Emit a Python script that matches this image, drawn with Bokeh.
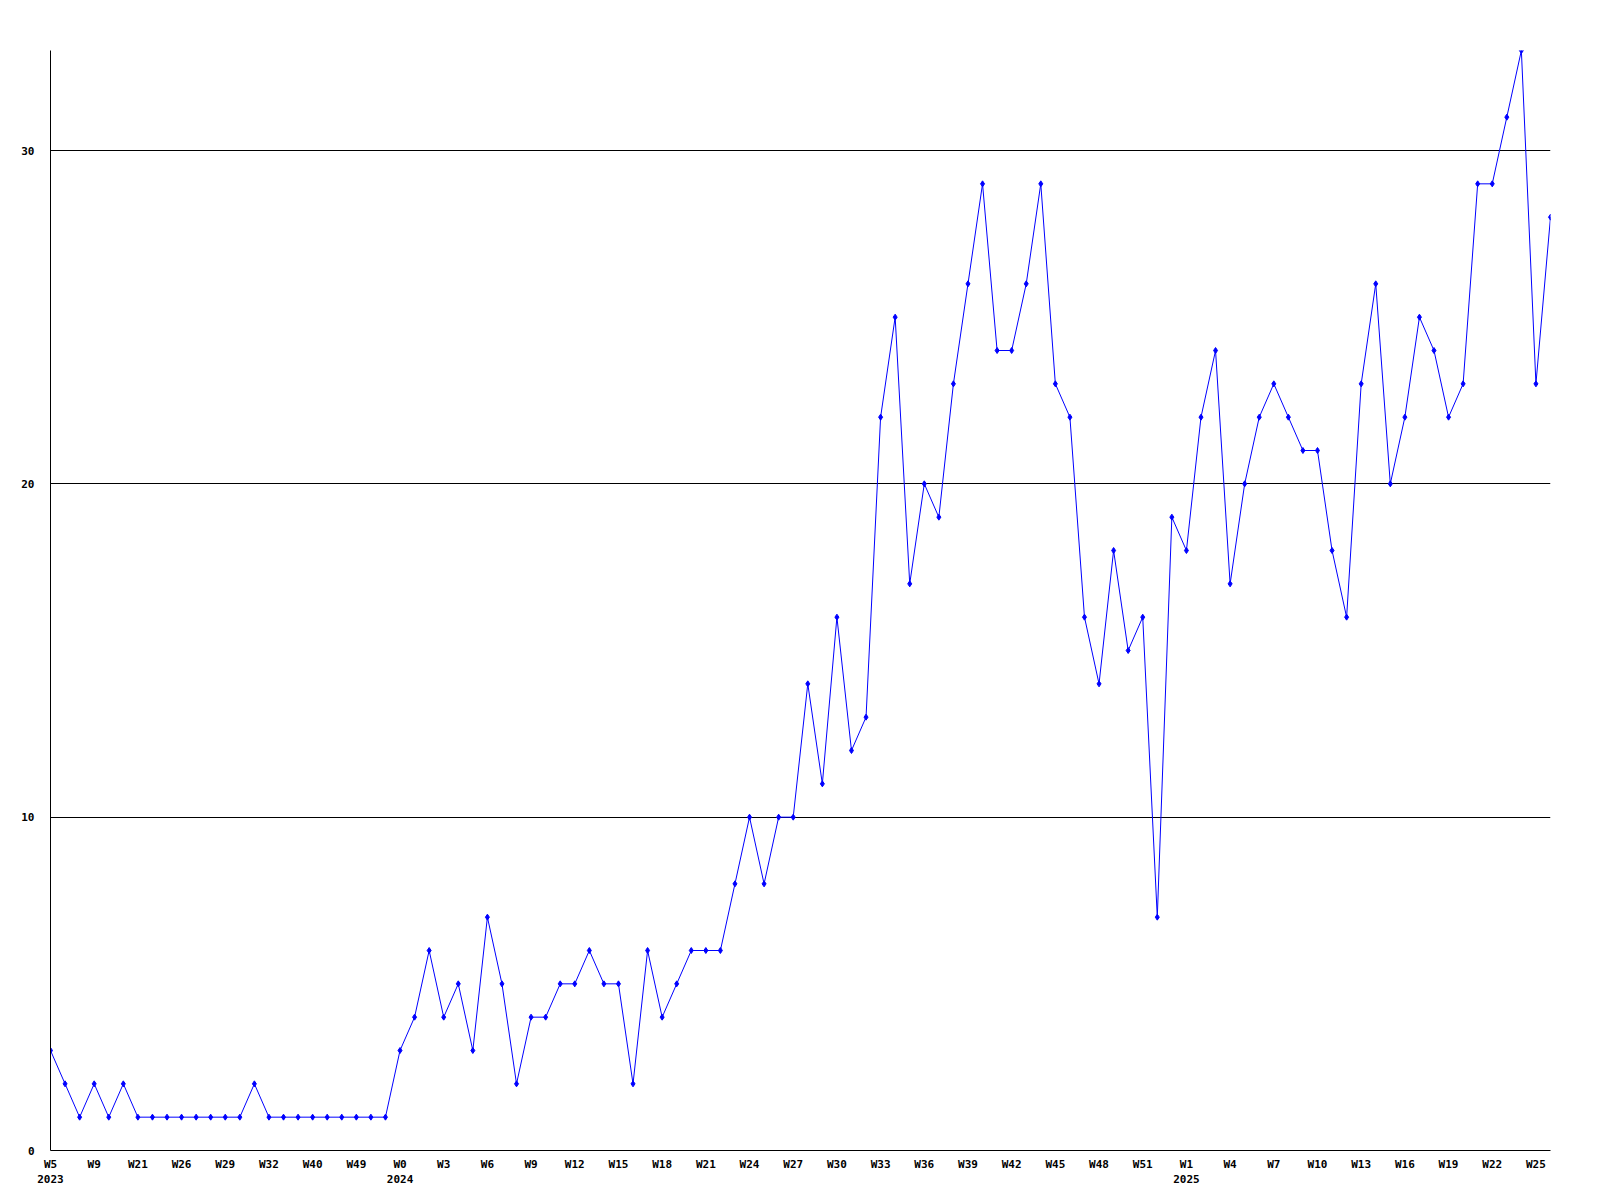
from bokeh.plotting import figure
from bokeh.models import Range1d, FixedTicker
from bokeh.embed import file_html
from bokeh.resources import INLINE

# ---- data ----
values = [3, 2, 1, 2, 1, 2, 1, 1, 1, 1, 1, 1, 1, 1, 2, 1, 1, 1, 1, 1, 1, 1, 1, 1,
          3, 4, 6, 4, 5, 3, 7, 5, 2, 4, 4, 5, 5, 6, 5, 5, 2, 6, 4, 5, 6, 6, 6, 8, 10, 8,
          10, 10, 14, 11, 16, 12, 13, 22, 25, 17, 20, 19, 23, 26, 29, 24, 24, 26, 29, 23,
          22, 16, 14, 18, 15, 16, 7, 19, 18, 22, 24, 17, 20, 22, 23,
          22, 21, 21, 18, 16, 23, 26, 20, 22, 25, 24, 22, 23, 29, 29, 31, 33, 23, 28]

week_labels = ["W5", "W9", "W21", "W26", "W29", "W32", "W40", "W49",
               "W0", "W3", "W6", "W9", "W12", "W15", "W18", "W21", "W24", "W27",
               "W30", "W33", "W36", "W39", "W42", "W45", "W48", "W51",
               "W1", "W4", "W7", "W10", "W13", "W16", "W19", "W22", "W25"]
label_step = 3
year_labels = {0: "2023", 24: "2024", 78: "2025"}
y_ticks = [0, 10, 20, 30]
y_max = 33

xs = list(range(len(values)))
label_pos = [i * label_step for i in range(len(week_labels))]
overrides = {}
for pos, lab in zip(label_pos, week_labels):
    overrides[pos] = lab + ("\n" + year_labels[pos] if pos in year_labels else "")

FONT = "DejaVu Sans Mono"

p = figure(frame_width=1500, frame_height=1100,
           x_range=Range1d(0, len(values) - 1), y_range=Range1d(0, y_max),
           output_backend="svg", toolbar_location=None,
           min_border_left=50, min_border_top=50, min_border_right=30, min_border_bottom=40)
p.outline_line_color = None
p.background_fill_color = "white"
p.border_fill_color = "white"

p.line(xs, values, line_color="#0000ff", line_width=1)
p.scatter(xs, values, marker="diamond", size=6, fill_color="#0000ff", line_color="#0000ff")

# axes
for ax in (p.xaxis[0], p.yaxis[0]):
    ax.axis_line_color = "black"
    ax.axis_line_width = 1
    ax.major_tick_line_color = None
    ax.minor_tick_line_color = None
    ax.major_tick_out = 0
    ax.major_tick_in = 0
    ax.major_label_text_font = FONT
    ax.major_label_text_font_style = "bold"
    ax.major_label_text_font_size = "11px"
    ax.major_label_text_color = "black"

p.xaxis.ticker = FixedTicker(ticks=label_pos)
p.xaxis.major_label_overrides = overrides
p.xaxis.major_label_standoff = 7

p.yaxis.ticker = FixedTicker(ticks=y_ticks)
p.yaxis.major_label_standoff = 16

p.xgrid.visible = False
p.ygrid.ticker = FixedTicker(ticks=y_ticks)
p.ygrid.grid_line_color = "black"
p.ygrid.grid_line_width = 1
p.ygrid.grid_line_alpha = 1.0

open("out.html", "w").write(file_html(p, INLINE))
